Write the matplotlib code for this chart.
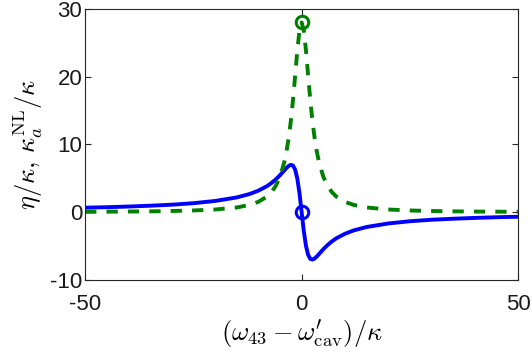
import numpy as np
import matplotlib
matplotlib.use('Agg')
import matplotlib.pyplot as plt

plt.rcParams['font.family'] = ['Liberation Sans', 'DejaVu Sans']
plt.rcParams['mathtext.fontset'] = 'cm'
plt.rcParams['axes.unicode_minus'] = False

# detuning (omega_43 - omega'_cav)/kappa
detuning = [-50, -45, -40, -35, -30, -25, -20, -15, -12, -10, -8, -7, -6, -5, -4,
            -3.5, -3, -2.5, -2, -1.5, -1, -0.5, 0, 0.5, 1, 1.5, 2, 2.5, 3, 3.5,
            4, 5, 6, 7, 8, 10, 12, 15, 20, 25, 30, 35, 40, 45, 50]
# eta/kappa (blue, solid)
eta = [0.67, 0.74, 0.84, 0.96, 1.11, 1.33, 1.66, 2.18, 2.69, 3.18, 3.85, 4.30, 4.83,
       5.46, 6.18, 6.53, 6.83, 6.99, 6.89, 6.29, 4.97, 2.80, 0.0, -2.80, -4.97,
       -6.29, -6.89, -6.99, -6.83, -6.53, -6.18, -5.46, -4.83, -4.30, -3.85,
       -3.18, -2.69, -2.18, -1.66, -1.33, -1.11, -0.96, -0.84, -0.74, -0.67]
# kappa_a^NL/kappa (green, dashed)
kappa_nl = [0.06, 0.08, 0.10, 0.13, 0.18, 0.26, 0.40, 0.70, 1.08, 1.53, 2.31, 2.95,
            3.86, 5.24, 7.41, 8.96, 10.93, 13.43, 16.53, 20.14, 23.86, 26.84, 28.0,
            26.84, 23.86, 20.14, 16.53, 13.43, 10.93, 8.96, 7.41, 5.24, 3.86, 2.95,
            2.31, 1.53, 1.08, 0.70, 0.40, 0.26, 0.18, 0.13, 0.10, 0.08, 0.06]
# marked points at zero detuning
mark_x = [0]
mark_eta = [0]
mark_knl = [28]

fig = plt.figure(figsize=(5.32, 3.56), dpi=100)
ax = fig.add_axes([0.160, 0.2135, 0.814, 0.7615])

ax.plot(detuning, eta, color=(0, 0, 1), lw=2.8)
ax.plot(detuning, kappa_nl, color=(0, 0.5, 0), lw=2.8, dashes=(2.9, 2.6))
ax.plot(mark_x, mark_eta, 'o', mfc='none', mec=(0, 0, 1), ms=9, mew=2.2)
ax.plot(mark_x, mark_knl, 'o', mfc='none', mec=(0, 0.5, 0), ms=9, mew=2.2)

ax.set_xlim(-50, 50)
ax.set_ylim(-10, 30)
ax.set_xticks([-50, 0, 50])
ax.set_yticks([-10, 0, 10, 20, 30])
ax.tick_params(direction='in', top=True, right=True, length=4, width=0.8,
               labelsize=16, colors='0.15', labelcolor='0.1')
ax.tick_params(axis='x', pad=10)
ax.tick_params(axis='y', pad=2)
for s in ax.spines.values():
    s.set_color('0.15')
    s.set_linewidth(0.8)

ax.set_xlabel(r"$(\omega_{43}-\omega^{\prime}_{\rm cav})/\kappa$", fontsize=19, labelpad=2)
ax.set_ylabel(r"$\eta/\kappa,\, \kappa_a^{\rm NL}/\kappa$", fontsize=19, labelpad=4)

fig.savefig('out.png', dpi=100)
